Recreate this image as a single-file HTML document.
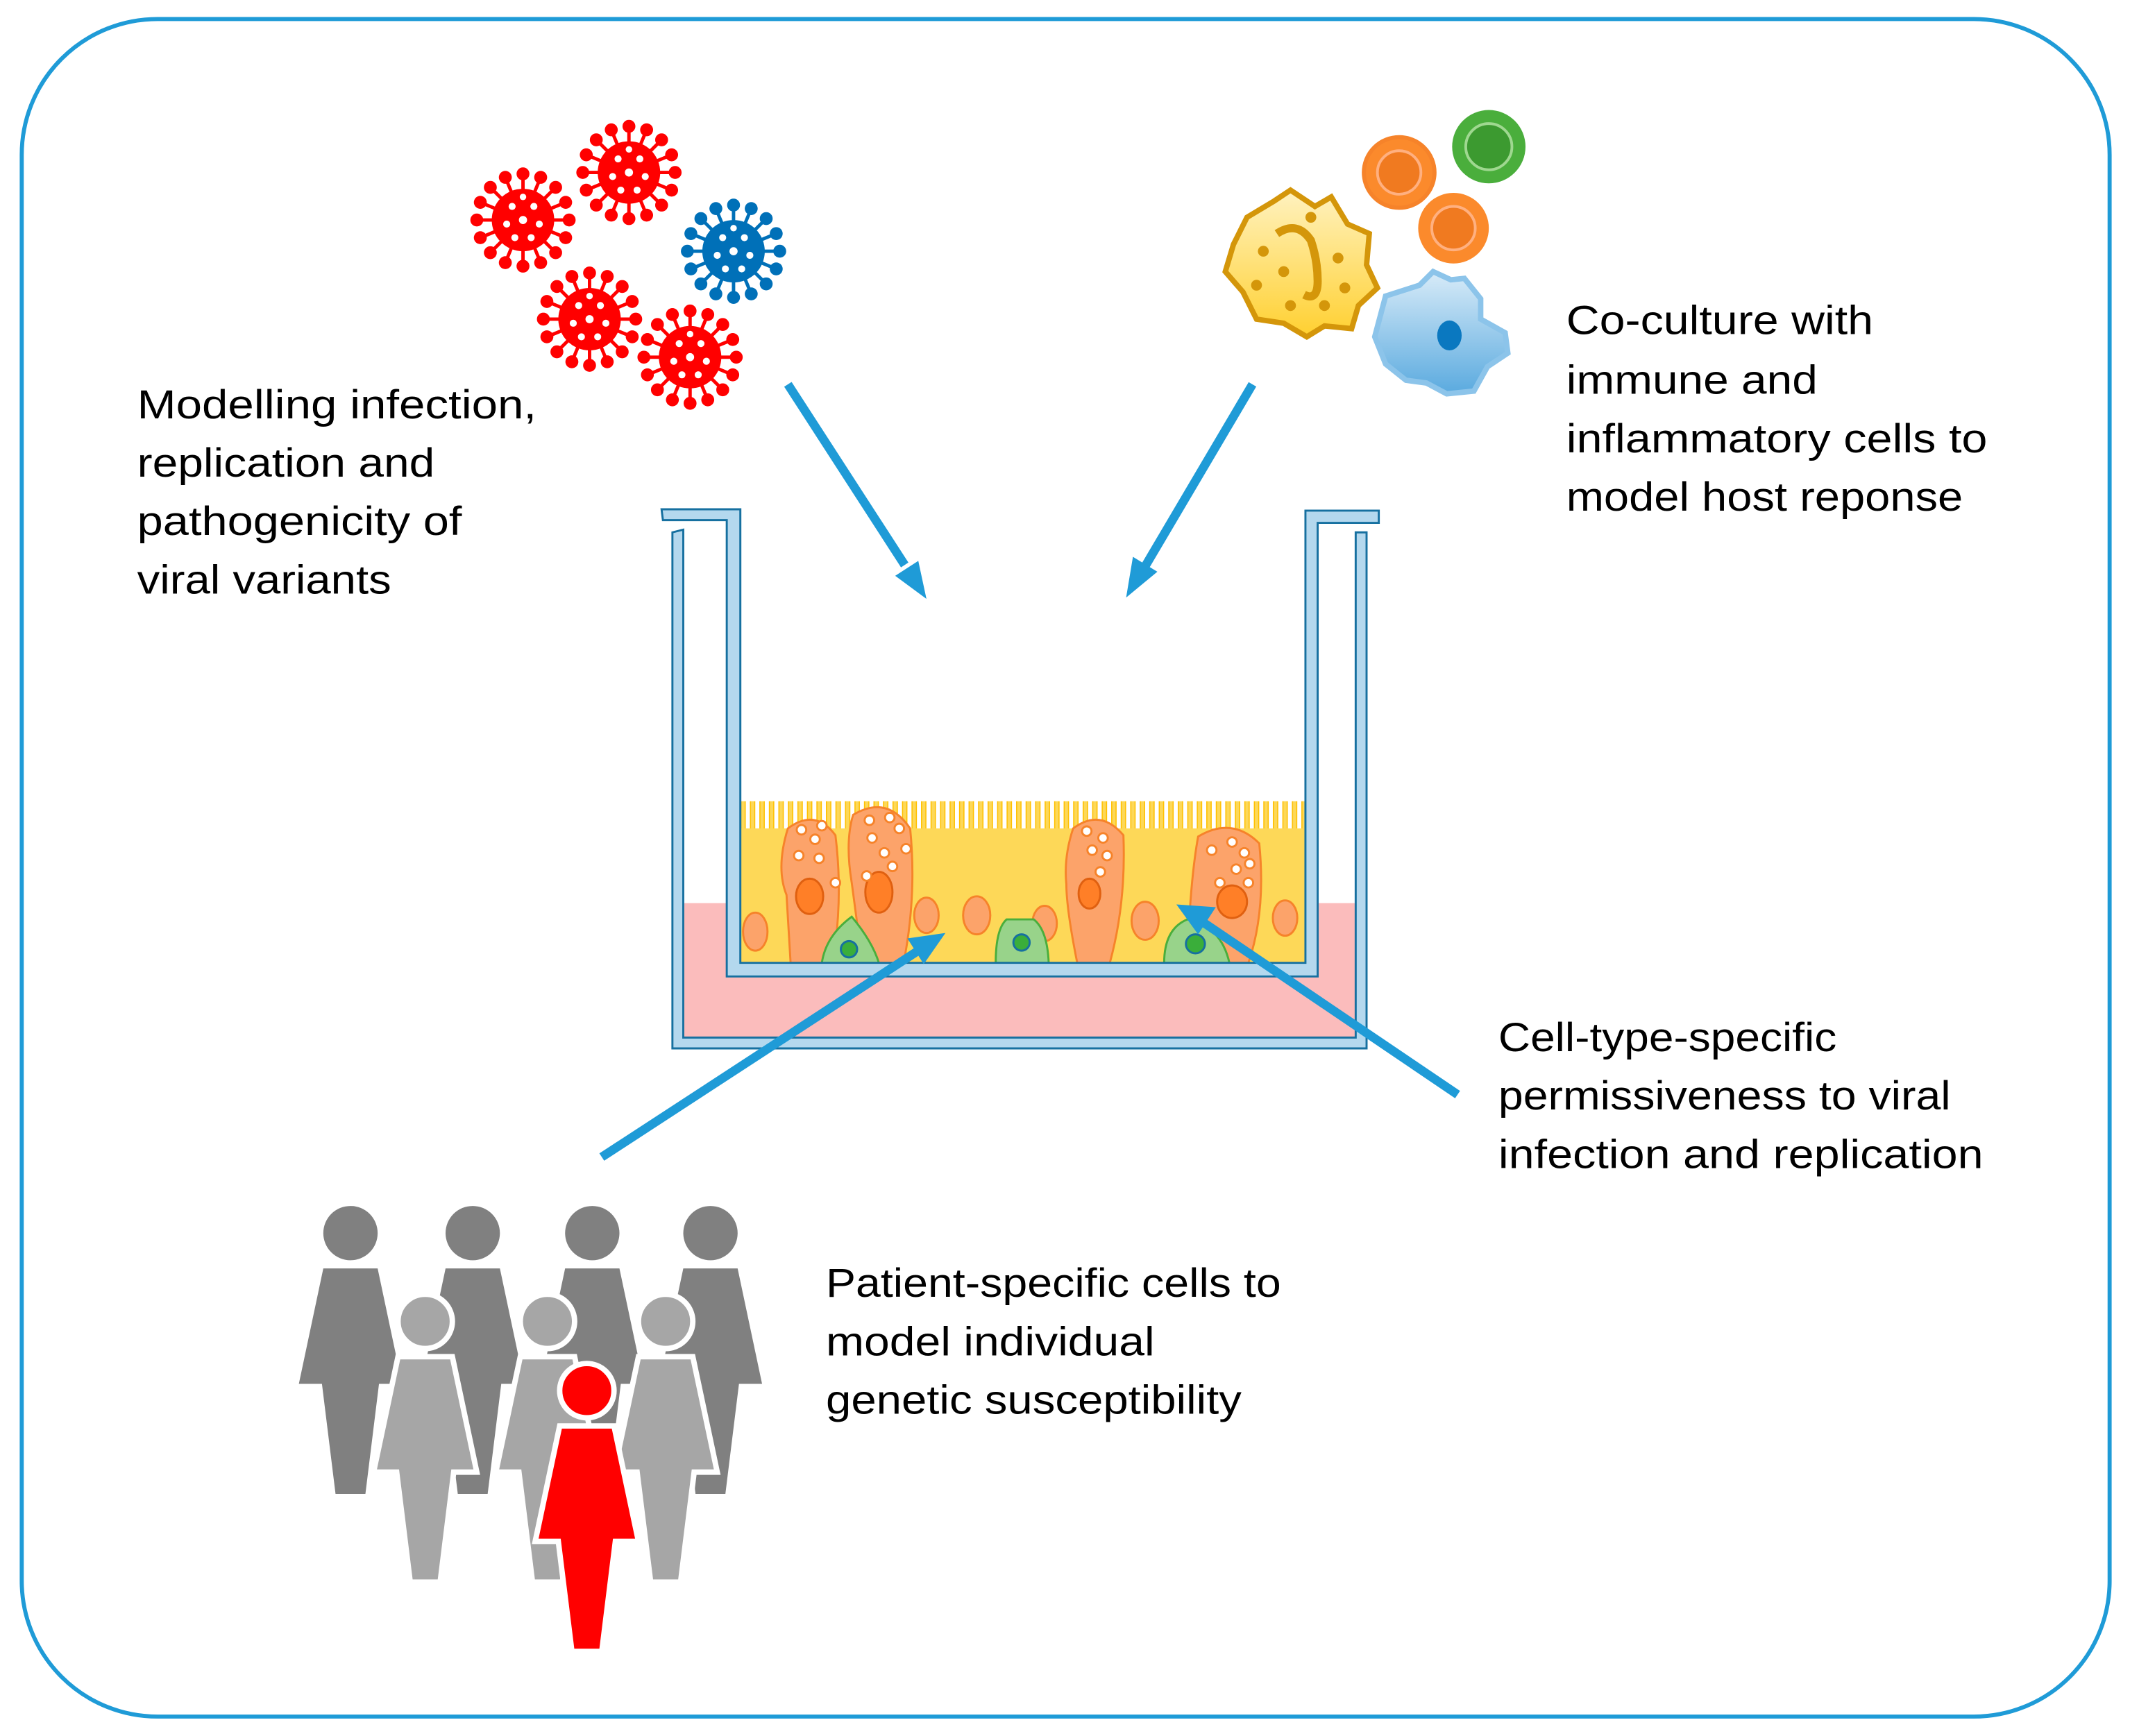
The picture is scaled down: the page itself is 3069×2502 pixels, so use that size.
<!DOCTYPE html>
<html><head><meta charset="utf-8"><style>html,body{margin:0;padding:0;background:#fff}svg{display:block}</style></head><body>
<svg width="3069" height="2502" viewBox="0 0 1568 1278.3" xmlns="http://www.w3.org/2000/svg">
<defs>
<g id="vir">
 <g stroke="currentColor" stroke-width="2.5" fill="currentColor">
  <line x1="0" y1="-34" x2="0" y2="34"/><line x1="-34" y1="0" x2="34" y2="0"/>
  <circle cx="0" cy="-34" r="3.5"/><circle cx="0" cy="34" r="3.5"/><circle cx="34" cy="0" r="3.5"/><circle cx="-34" cy="0" r="3.5"/>
  <g transform="rotate(22.5)"><line x1="0" y1="-34" x2="0" y2="34"/><line x1="-34" y1="0" x2="34" y2="0"/><circle cx="0" cy="-34" r="3.5"/><circle cx="0" cy="34" r="3.5"/><circle cx="34" cy="0" r="3.5"/><circle cx="-34" cy="0" r="3.5"/></g>
  <g transform="rotate(45)"><line x1="0" y1="-34" x2="0" y2="34"/><line x1="-34" y1="0" x2="34" y2="0"/><circle cx="0" cy="-34" r="3.5"/><circle cx="0" cy="34" r="3.5"/><circle cx="34" cy="0" r="3.5"/><circle cx="-34" cy="0" r="3.5"/></g>
  <g transform="rotate(67.5)"><line x1="0" y1="-34" x2="0" y2="34"/><line x1="-34" y1="0" x2="34" y2="0"/><circle cx="0" cy="-34" r="3.5"/><circle cx="0" cy="34" r="3.5"/><circle cx="34" cy="0" r="3.5"/><circle cx="-34" cy="0" r="3.5"/></g>
 </g>
 <circle r="23" fill="currentColor"/>
 <g fill="#fff"><circle cx="0" cy="0" r="3"/><circle cx="-8" cy="-10" r="2.6"/><circle cx="8" cy="-10" r="2.6"/><circle cx="-12" cy="3" r="2.6"/><circle cx="12" cy="3" r="2.6"/><circle cx="-6" cy="13" r="2.6"/><circle cx="6" cy="13" r="2.6"/><circle cx="0" cy="-17" r="2.4"/></g>
</g>
<path id="body" d="M0,0 m-20,0 a20,20 0 1,0 40,0 a20,20 0 1,0 -40,0 M-20,26 L20,26 L38,111 L21,111 L11,192 L-11,192 L-21,111 L-38,111 Z"/>
<linearGradient id="yg" x1="0" y1="0" x2="0" y2="1"><stop offset="0" stop-color="#fff2c0"/><stop offset="1" stop-color="#ffd030"/></linearGradient>
<linearGradient id="bg" x1="0" y1="0" x2="0" y2="1"><stop offset="0" stop-color="#d8ebf8"/><stop offset="1" stop-color="#5aaadf"/></linearGradient>
<pattern id="cil" x="545" y="0" width="7" height="30" patternUnits="userSpaceOnUse"><rect x="0" width="4" height="30" fill="#fdd858"/><rect x="0" width="0.8" height="30" fill="#ffc000"/><rect x="3.2" width="0.8" height="30" fill="#ffc000"/></pattern>
</defs>

<rect x="16" y="14" width="1537" height="1250" rx="100" fill="none" stroke="#1f9bd7" stroke-width="3"/>

<!-- viruses -->
<use href="#vir" x="385" y="162" style="color:#ff0000"/>
<use href="#vir" x="463" y="127" style="color:#ff0000"/>
<use href="#vir" x="540" y="185" style="color:#0070b8"/>
<use href="#vir" x="434" y="235" style="color:#ff0000"/>
<use href="#vir" x="508" y="263" style="color:#ff0000"/>

<!-- immune cells -->
<path d="M918,160 L938,148 L950,140 L968,152 L980,145 L992,165 L1008,172 L1006,195 L1014,212 L1000,225 L995,242 L975,240 L962,248 L945,238 L925,235 L915,215 L902,200 L908,180 Z" fill="url(#yg)" stroke="#d4960a" stroke-width="4"/>
<g fill="#d4960a"><circle cx="930" cy="185" r="4"/><circle cx="945" cy="200" r="4"/><circle cx="925" cy="210" r="4"/><circle cx="985" cy="190" r="4"/><circle cx="950" cy="225" r="4"/><circle cx="975" cy="225" r="4"/><circle cx="965" cy="160" r="4"/><circle cx="990" cy="212" r="4"/><path d="M940,172 q15,-10 25,5 q5,15 5,30 q0,15 -10,10" fill="none" stroke="#d4960a" stroke-width="6"/></g>
<circle cx="1030" cy="127" r="26" fill="#fb8a2c" stroke="#f6832a" stroke-width="3"/><circle cx="1030" cy="127" r="16" fill="#f07a20" stroke="#ffb080" stroke-width="2"/>
<circle cx="1070" cy="168" r="26" fill="#fb8a2c"/><circle cx="1070" cy="168" r="16" fill="#f07a20" stroke="#ffb080" stroke-width="2"/>
<circle cx="1096" cy="108" r="27" fill="#4aae3c"/><circle cx="1096" cy="108" r="17" fill="#3c9a30" stroke="#9fd890" stroke-width="2"/>
<path d="M1020,218 L1045,210 L1055,200 L1068,206 L1078,205 L1090,220 L1090,235 L1108,245 L1110,260 L1095,270 L1085,288 L1065,290 L1050,282 L1035,280 L1020,268 L1012,248 Z" fill="url(#bg)" stroke="#8cc4ea" stroke-width="4"/>
<ellipse cx="1067" cy="247" rx="9" ry="11" fill="#0a78c0"/>

<!-- upper arrows -->
<g stroke="#1f9bd7" stroke-width="6.5" fill="#1f9bd7">
<line x1="580" y1="283" x2="666" y2="416"/><polygon points="682,441 659,424 676,413" stroke="none"/>
<line x1="922" y1="283" x2="843" y2="417"/><polygon points="829,440 834,410 852,421" stroke="none"/>
</g>

<!-- well -->
<rect x="503" y="665" width="495" height="99" fill="#fbbcbc"/>
<path d="M495,392 L503,390 L503,764 L998,764 L998,392 L1006,392 L1006,772 L495,772 Z" fill="#b4d8ee" stroke="#1670a0" stroke-width="1.5"/>
<!-- cells -->
<g stroke-width="1.5">
<rect x="545" y="590" width="416" height="22" fill="url(#cil)"/>
<rect x="545" y="610" width="416" height="99" fill="#fdd858"/>
<path d="M580,610 q20,-15 35,5 q5,40 0,80 l-5,14 h-28 l-3,-50 q-8,-20 1,-49 Z" fill="#fca36a" stroke="#f6832a"/>
<path d="M628,600 q25,-15 42,10 q5,50 -5,100 h-30 l-8,-60 q-5,-30 1,-50 Z" fill="#fca36a" stroke="#f6832a"/>
<path d="M790,610 q20,-15 37,5 q2,50 -10,94 h-24 q-8,-40 -8,-58 q-2,-20 5,-41 Z" fill="#fca36a" stroke="#f6832a"/>
<path d="M882,616 q25,-15 45,5 q5,50 -8,88 h-45 q2,-60 8,-93 Z" fill="#fca36a" stroke="#f6832a"/>
<g fill="#ff7f27" stroke="#e06010"><ellipse cx="596" cy="660" rx="10" ry="13"/><ellipse cx="647" cy="657" rx="10" ry="15"/><ellipse cx="802" cy="658" rx="8" ry="11"/><ellipse cx="907" cy="664" rx="11" ry="12"/></g>
<g fill="#fca36a" stroke="#f6832a"><ellipse cx="556" cy="686" rx="9" ry="14"/><ellipse cx="682" cy="674" rx="9" ry="13"/><ellipse cx="719" cy="674" rx="10" ry="14"/><ellipse cx="769" cy="680" rx="9" ry="13"/><ellipse cx="843" cy="678" rx="10" ry="14"/><ellipse cx="946" cy="676" rx="9" ry="13"/></g>
<g fill="#fff" stroke="#f6832a"><circle cx="590" cy="611" r="3.5"/><circle cx="600" cy="618" r="3.5"/><circle cx="605" cy="608" r="3.5"/><circle cx="588" cy="630" r="3.5"/><circle cx="603" cy="632" r="3.5"/><circle cx="615" cy="650" r="3.5"/><circle cx="640" cy="604" r="3.5"/><circle cx="655" cy="602" r="3.5"/><circle cx="662" cy="610" r="3.5"/><circle cx="642" cy="617" r="3.5"/><circle cx="651" cy="628" r="3.5"/><circle cx="667" cy="625" r="3.5"/><circle cx="657" cy="638" r="3.5"/><circle cx="638" cy="645" r="3.5"/><circle cx="800" cy="612" r="3.5"/><circle cx="812" cy="617" r="3.5"/><circle cx="804" cy="626" r="3.5"/><circle cx="815" cy="630" r="3.5"/><circle cx="810" cy="642" r="3.5"/><circle cx="892" cy="626" r="3.5"/><circle cx="907" cy="620" r="3.5"/><circle cx="916" cy="628" r="3.5"/><circle cx="920" cy="636" r="3.5"/><circle cx="910" cy="640" r="3.5"/><circle cx="898" cy="650" r="3.5"/><circle cx="919" cy="650" r="3.5"/></g>
<path d="M605,709 q3,-20 22,-34 q15,18 20,34 Z" fill="#98d38a" stroke="#4aae3c"/>
<path d="M733,709 q0,-25 8,-32 h20 q10,8 11,32 Z" fill="#98d38a" stroke="#4aae3c"/>
<path d="M857,709 q0,-25 17,-32 q25,5 31,32 Z" fill="#98d38a" stroke="#4aae3c"/>
<g fill="#3aae3a" stroke="#1670a0"><circle cx="625" cy="699" r="6"/><circle cx="752" cy="694" r="6"/><circle cx="880" cy="695" r="7"/></g>
</g>
<path d="M487,375 L545,375 L545,709 L961,709 L961,376 L1015,376 L1015,385 L970,385 L970,719 L535,719 L535,383 L488,383 Z" fill="#b4d8ee" stroke="#1670a0" stroke-width="1.5"/>

<!-- lower arrows (over the well) -->
<g stroke="#1f9bd7" stroke-width="6.5" fill="#1f9bd7">
<line x1="443" y1="852" x2="676" y2="700"/><polygon points="696,687 680,710 668,691" stroke="none"/>
<line x1="1073" y1="806" x2="887" y2="680"/><polygon points="866,666 895,668 882,688" stroke="none"/>
</g>

<!-- people -->
<g fill="#808080"><use href="#body" x="258" y="908"/><use href="#body" x="348" y="908"/><use href="#body" x="436" y="908"/><use href="#body" x="523" y="908"/></g>
<g fill="#a6a6a6" stroke="#fff" stroke-width="4" stroke-linejoin="miter"><use href="#body" x="313" y="973"/><use href="#body" x="403" y="973"/><use href="#body" x="490" y="973"/></g>
<g fill="#ff0000" stroke="#fff" stroke-width="4"><use href="#body" x="432" y="1024"/></g>

<!-- text -->
<g font-family="Liberation Sans, sans-serif" font-size="30" fill="#000">
<text x="101" y="308" textLength="294" lengthAdjust="spacingAndGlyphs">Modelling infection,</text>
<text x="101" y="351" textLength="219" lengthAdjust="spacingAndGlyphs">replication and</text>
<text x="101" y="394" textLength="239" lengthAdjust="spacingAndGlyphs">pathogenicity of</text>
<text x="101" y="437" textLength="187" lengthAdjust="spacingAndGlyphs">viral variants</text>
<text x="1153" y="246" textLength="226" lengthAdjust="spacingAndGlyphs">Co-culture with</text>
<text x="1153" y="290" textLength="185" lengthAdjust="spacingAndGlyphs">immune and</text>
<text x="1153" y="333" textLength="310" lengthAdjust="spacingAndGlyphs">inflammatory cells to</text>
<text x="1153" y="376" textLength="292" lengthAdjust="spacingAndGlyphs">model host reponse</text>
<text x="1103" y="774" textLength="249" lengthAdjust="spacingAndGlyphs">Cell-type-specific</text>
<text x="1103" y="817" textLength="333" lengthAdjust="spacingAndGlyphs">permissiveness to viral</text>
<text x="1103" y="860" textLength="357" lengthAdjust="spacingAndGlyphs">infection and replication</text>
<text x="608" y="955" textLength="335" lengthAdjust="spacingAndGlyphs">Patient-specific cells to</text>
<text x="608" y="998" textLength="242" lengthAdjust="spacingAndGlyphs">model individual</text>
<text x="608" y="1041" textLength="306" lengthAdjust="spacingAndGlyphs">genetic susceptibility</text>
</g>
</svg>
</body></html>
